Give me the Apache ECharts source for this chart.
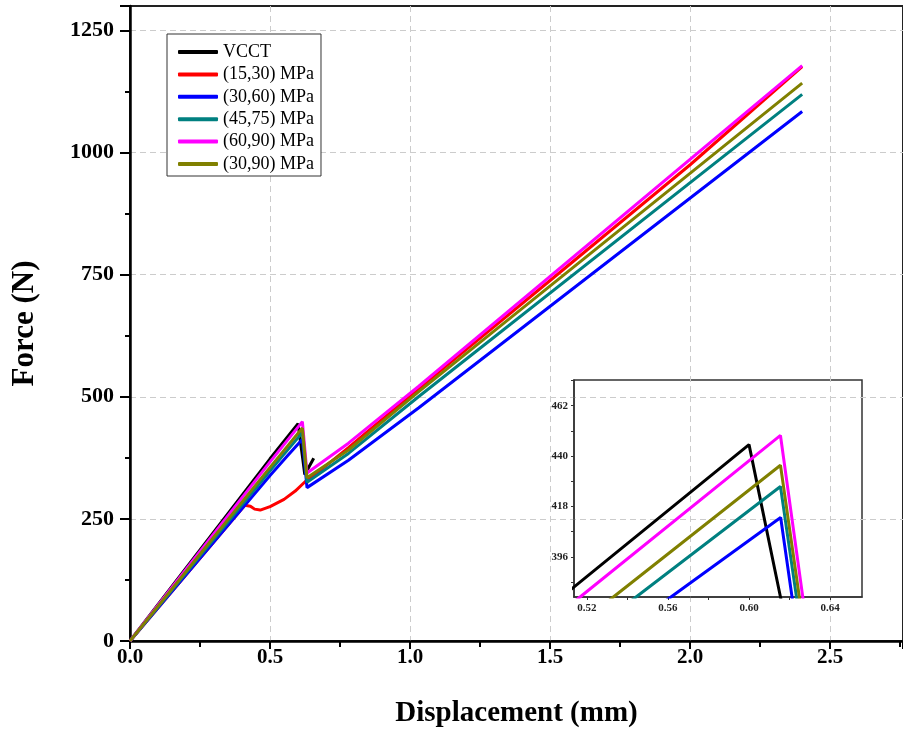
<!DOCTYPE html>
<html><head><meta charset="utf-8">
<script src="https://cdn.jsdelivr.net/npm/echarts@6/dist/echarts.min.js"></script>
<style>html,body{margin:0;padding:0;background:#fff}#c{width:903px;height:733px}</style>
</head><body><div id="c"></div><script>
const seriesNames = ['VCCT', '(15,30) MPa', '(30,60) MPa', '(45,75) MPa', '(60,90) MPa', '(30,90) MPa'];
const seriesColors = ['#000000', '#ff0000', '#0000ff', '#008080', '#ff00ff', '#808000'];

const vcctX = [0, 0.50, 0.600, 0.6155, 0.624, 0.656];
const vcctY = [0, 373, 445, 378.5, 341, 374];
const redX = [0, 0.41, 0.43, 0.445, 0.465, 0.50, 0.55, 0.59, 0.625, 0.65, 0.78, 1.03, 1.5, 2.0, 2.4];
const redY = [0, 278, 276, 270, 268, 275, 290, 307, 326, 336, 396, 516, 738, 975, 1176];
const blueX = [0, 0.50, 0.5615, 0.6156, 0.6212, 0.632, 0.78, 1.03, 2.4];
const blueY = [0, 339, 378.5, 413.2, 378.5, 314, 370, 477, 1084];
const tealX = [0, 0.50, 0.5443, 0.6155, 0.6234, 0.632, 0.78, 1.03, 2.4];
const tealY = [0, 348.5, 378.5, 426.7, 378.5, 325, 384, 500, 1119];
const magX = [0, 0.50, 0.5167, 0.6155, 0.6265, 0.632, 0.78, 1.03, 2.4];
const magY = [0, 366.6, 378.5, 449, 378.5, 344, 405, 521, 1178];
const oliveX = [0, 0.50, 0.5331, 0.6155, 0.6248, 0.632, 0.78, 1.03, 2.4];
const oliveY = [0, 355.4, 378.5, 436, 378.5, 334, 391, 510, 1142];

const xTickLabels = [0, 0.5, 1.0, 1.5, 2.0, 2.5];
const yTickLabels = [0, 250, 500, 750, 1000, 1250];
const insetXLabels = [0.52, 0.56, 0.60, 0.64];
const insetXTicks = [0.52, 0.54, 0.56, 0.58, 0.60, 0.62, 0.64];
const insetYLabels = [396, 418, 440, 462];
const insetYTicks = [385, 396, 407, 418, 429, 440, 451, 462, 473];

const allX = [vcctX, redX, blueX, tealX, magX, oliveX];
const allY = [vcctY, redY, blueY, tealY, magY, oliveY];
const pairs = (xs, ys) => xs.map((x, i) => [x, ys[i]]);

const FONT = 'Liberation Serif';
const series = [];
for (let g = 0; g < 2; g++) {
  for (let k = 0; k < 6; k++) {
    series.push({ name: seriesNames[k], type: 'line', xAxisIndex: g, yAxisIndex: g, data: pairs(allX[k], allY[k]),
      showSymbol: false, symbol: 'none', lineStyle: { width: 3, color: seriesColors[k] }, itemStyle: { color: seriesColors[k] }, clip: true });
  }
}

const chart = echarts.init(document.getElementById('c'), null, { renderer: 'canvas' });
chart.setOption({
  animation: false,
  backgroundColor: '#ffffff',
  grid: [
    { left: 130, top: 6, right: -5, bottom: 92, show: true, borderColor: '#222', borderWidth: 2, backgroundColor: 'transparent', containLabel: false },
    { left: 574, top: 380, width: 288, height: 217, show: true, borderColor: '#333', borderWidth: 1.5, backgroundColor: 'transparent', containLabel: false }
  ],
  legend: {
    data: seriesNames, orient: 'vertical', left: 167, top: 34,
    icon: 'roundRect', itemWidth: 40, itemHeight: 4, itemGap: 4.4,
    padding: [9, 7, 3, 11], borderColor: '#333', borderWidth: 1, backgroundColor: '#fff',
    textStyle: { fontFamily: FONT, fontSize: 18, color: '#000', lineHeight: 18 }
  },
  xAxis: [
    { type: 'value', gridIndex: 0, min: 0, max: 2.76, interval: 0.5,
      name: 'Displacement (mm)', nameLocation: 'middle', nameGap: 58,
      nameTextStyle: { fontFamily: FONT, fontWeight: 'bold', fontSize: 29, color: '#000' },
      axisLine: { show: true, onZero: false, lineStyle: { color: '#000', width: 2.5 } },
      axisTick: { show: true, inside: false, length: 8, lineStyle: { color: '#000', width: 2 } },
      minorTick: { show: true, splitNumber: 2, length: 6, lineStyle: { color: '#000', width: 2 } },
      axisLabel: { customValues: xTickLabels, formatter: v => v.toFixed(1), margin: 6, fontFamily: FONT, fontWeight: 'bold', fontSize: 21, color: '#000' },
      splitLine: { show: true, showMaxLine: false, lineStyle: { color: '#cccccc', type: [6, 4], width: 1 } }
    },
    { type: 'value', gridIndex: 1, min: 0.5137, max: 0.6557,
      axisLine: { show: true, onZero: false, lineStyle: { color: '#333', width: 1.5 } },
      axisTick: { show: true, inside: false, length: 3, customValues: insetXTicks, lineStyle: { color: '#333', width: 1 } },
      axisLabel: { customValues: insetXLabels, formatter: v => v.toFixed(2), margin: 6, fontFamily: FONT, fontWeight: 'bold', fontSize: 11, color: '#222' },
      splitLine: { show: false }
    }
  ],
  yAxis: [
    { type: 'value', gridIndex: 0, min: 0, max: 1300, interval: 250,
      name: 'Force (N)', nameLocation: 'middle', nameGap: 90,
      nameTextStyle: { fontFamily: FONT, fontWeight: 'bold', fontSize: 31, color: '#000' },
      axisLine: { show: true, onZero: false, lineStyle: { color: '#000', width: 2.5 } },
      axisTick: { show: true, inside: false, length: 10, lineStyle: { color: '#000', width: 2 } },
      minorTick: { show: true, splitNumber: 2, length: 5, lineStyle: { color: '#000', width: 2 } },
      axisLabel: { customValues: yTickLabels, formatter: v => String(v), margin: 16, fontFamily: FONT, fontWeight: 'bold', fontSize: 22, color: '#000' },
      splitLine: { show: true, showMaxLine: false, lineStyle: { color: '#cccccc', type: [6, 4], width: 1 } }
    },
    { type: 'value', gridIndex: 1, min: 378.5, max: 473.2,
      axisLine: { show: true, onZero: false, lineStyle: { color: '#333', width: 1.5 } },
      axisTick: { show: true, inside: false, length: 3, customValues: insetYTicks, lineStyle: { color: '#333', width: 1 } },
      axisLabel: { customValues: insetYLabels, formatter: v => String(v), margin: 6, fontFamily: FONT, fontWeight: 'bold', fontSize: 11, color: '#222' },
      splitLine: { show: false }
    }
  ],
  series: series
});
</script></body></html>
